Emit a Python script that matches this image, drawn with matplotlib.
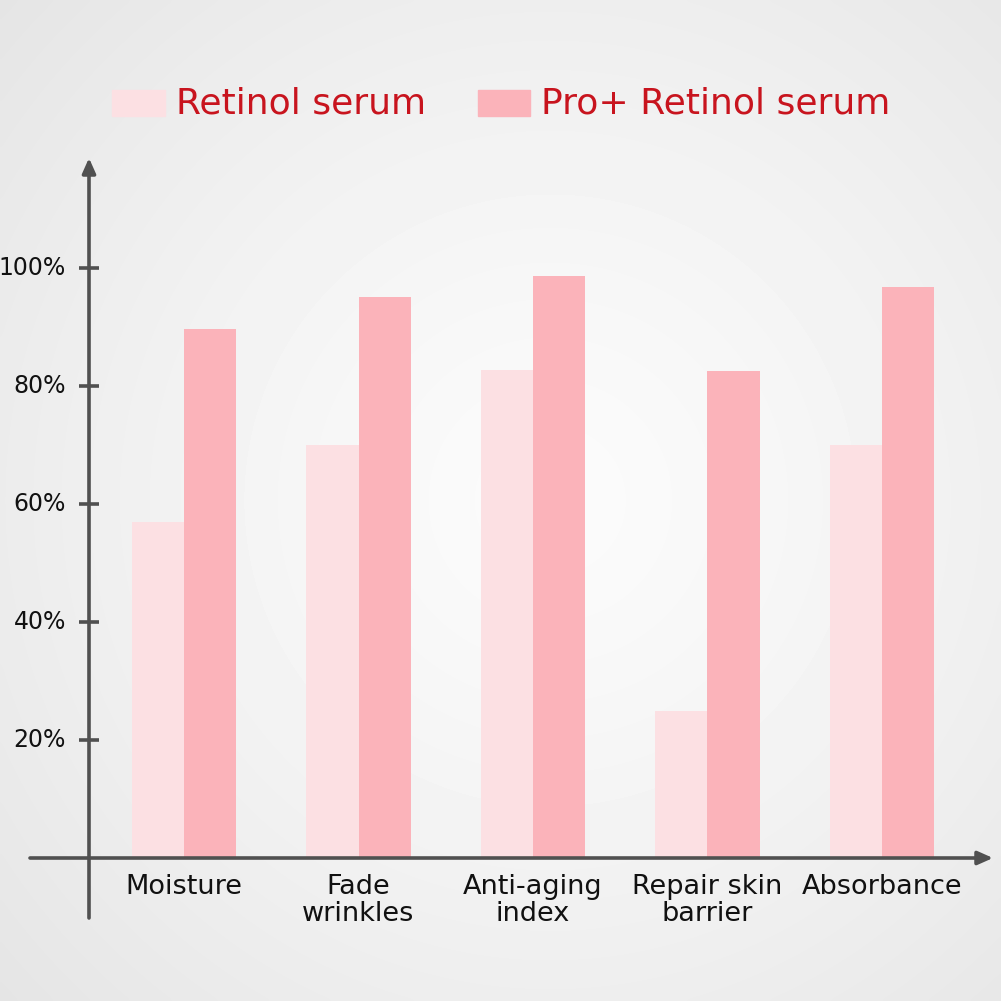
import numpy as np
import matplotlib.pyplot as plt

categories = ['Moisture', 'Fade\nwrinkles', 'Anti-aging\nindex', 'Repair skin\nbarrier', 'Absorbance']
retinol = [57, 70, 82.7, 25, 70]
pro_retinol = [89.7, 95, 98.6, 82.5, 96.8]
yticks = [20, 40, 60, 80, 100]
ytick_labels = ['20%', '40%', '60%', '80%', '100%']

light = '#FCE0E3'
dark = '#FBB3BA'
red = '#C8141E'
axis_col = '#505050'

plt.rcParams['font.family'] = ['DejaVu Sans']

fig = plt.figure(figsize=(10.01, 10.01), dpi=100)

# background gradient
bg = fig.add_axes([0, 0, 1, 1])
yy, xx = np.mgrid[0:1:300j, 0:1:300j]
r = np.sqrt((xx - 0.55) ** 2 + (yy - 0.5) ** 2)
bg.imshow(0.985 - 0.13 * r ** 1.3, cmap='gray', vmin=0, vmax=1, extent=[0, 1, 0, 1],
          aspect='auto', interpolation='bicubic')
bg.axis('off')

W = 1001.0
# pixel layout of the axis frame
px_left, px_right, px_top, px_bottom = 30, 993, 158, 918
ax = fig.add_axes([px_left / W, 1 - px_bottom / W, (px_right - px_left) / W, (px_bottom - px_top) / W])
ax.patch.set_alpha(0)
for s in ax.spines.values():
    s.set_visible(False)
ax.set_xticks([])
ax.set_yticks([])

xs = 174.5  # px per category
ys = 5.9    # px per percent
x0_px = 184
ax.set_xlim((px_left - x0_px) / xs, (px_right - x0_px) / xs)
ax.set_ylim(-(px_bottom - 858) / ys, (858 - px_top) / ys)

x = np.arange(len(categories))
w = 0.3
ax.bar(x - w / 2, retinol, w, color=light, zorder=2)
ax.bar(x + w / 2, pro_retinol, w, color=dark, zorder=2)

yax = (89 - x0_px) / xs
xl, xr = ax.get_xlim()
yb, yt = ax.get_ylim()
arrow = dict(arrowstyle='-|>,head_length=0.9,head_width=0.4', color=axis_col, lw=2.6,
             shrinkA=0, shrinkB=0)
ax.annotate('', xy=(xr, 0), xytext=(xl, 0), arrowprops=arrow, zorder=3)
ax.annotate('', xy=(yax, yt), xytext=(yax, yb), arrowprops=arrow, zorder=3)

tick_half = 10 / xs
ax.hlines(yticks, yax - tick_half, yax + tick_half, color=axis_col, lw=2.6, zorder=3)
for v, lab in zip(yticks, ytick_labels):
    ax.text(yax - 23 / xs, v, lab, ha='right', va='center', fontsize=17, color='#111111')

for i, c in enumerate(categories):
    ax.text(i, -16 / ys, c, ha='center', va='top', fontsize=19.5, color='#111111',
            linespacing=1.05)

# legend
fig.patches.append(plt.Rectangle((112 / W, 1 - 116 / W), 53 / W, 26 / W,
                                 transform=fig.transFigure, color=light))
fig.patches.append(plt.Rectangle((478 / W, 1 - 116 / W), 52 / W, 26 / W,
                                 transform=fig.transFigure, color=dark))
fig.text(176 / W, 1 - 103 / W, 'Retinol serum', ha='left', va='center', fontsize=26,
         color=red)
fig.text(541 / W, 1 - 103 / W, 'Pro+ Retinol serum', ha='left', va='center', fontsize=26,
         color=red)

fig.savefig('out.png', dpi=100)
